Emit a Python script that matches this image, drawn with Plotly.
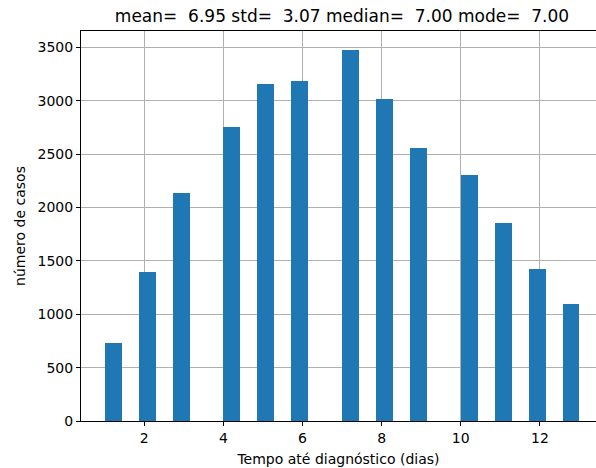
import numpy as np
import plotly.graph_objects as go

# Data
days = [1, 2, 3, 4, 5, 6, 7, 8, 9, 10, 11, 12, 13]
counts = [734, 1400, 2140, 2759, 3162, 3190, 3481, 3022, 2562, 2309, 1859, 1428, 1100]
n_bins = 28
x_ticks = [2, 4, 6, 8, 10, 12]
y_ticks = [0, 500, 1000, 1500, 2000, 2500, 3000, 3500]

title_text = "mean=  6.95 std=  3.07 median=  7.00 mode=  7.00"
x_title = "Tempo até diagnóstico (dias)"
y_title = "número de casos"

# histogram binning (matplotlib-like, bins over [min, max])
edges = np.linspace(min(days), max(days), n_bins + 1)
idx = np.clip(np.searchsorted(edges, np.array(days) + 1e-9, side="right") - 1, 0, n_bins - 1)
centers = (edges[idx] + edges[idx + 1]) / 2
bin_w = edges[1] - edges[0]

FONT = "DejaVu Sans"
fig = go.Figure()
fig.add_trace(go.Bar(
    x=centers, y=counts, width=bin_w,
    marker=dict(color="#1f77b4", line=dict(width=0)),
))

W, H = 596, 468
L, R, T, B = 81, 0, 31, 47
fig.update_layout(
    width=W, height=H,
    margin=dict(l=L, r=R, t=T, b=B, pad=0),
    paper_bgcolor="white", plot_bgcolor="white",
    showlegend=False,
    font=dict(family=FONT, size=14, color="black"),
    title=dict(
        text=title_text.replace(" ", "\u00a0"),
        font=dict(family=FONT, size=17, color="black"),
        xref="paper", x=(342 - L) / 515, xanchor="center",
        yref="container", y=1 - 16 / H, yanchor="middle",
    ),
    bargap=0,
)
fig.update_xaxes(
    range=[0.4, 0.4 + (W - L) / 39.56],
    tickvals=x_ticks, ticktext=[str(v) for v in x_ticks],
    ticks="outside", ticklen=4, tickwidth=1, tickcolor="black",
    showline=True, linecolor="black", linewidth=1, mirror=True,
    showgrid=True, gridcolor="#b0b0b0", gridwidth=1.1,
    zeroline=False, layer="above traces",
    tickfont=dict(family=FONT, size=14, color="black"),
    title=dict(text=x_title, font=dict(family=FONT, size=14, color="black"), standoff=9),
)
fig.update_yaxes(
    range=[0, 3655],
    tickvals=y_ticks, ticktext=[str(v) for v in y_ticks],
    ticks="outside", ticklen=4, tickwidth=1, tickcolor="black",
    showline=True, linecolor="black", linewidth=1,
    showgrid=True, gridcolor="#b0b0b0", gridwidth=1.1,
    zeroline=False, layer="above traces",
    tickfont=dict(family=FONT, size=14, color="black"),
    title=dict(text=y_title, font=dict(family=FONT, size=14, color="black"), standoff=8),
)

fig.write_html("out.html")
